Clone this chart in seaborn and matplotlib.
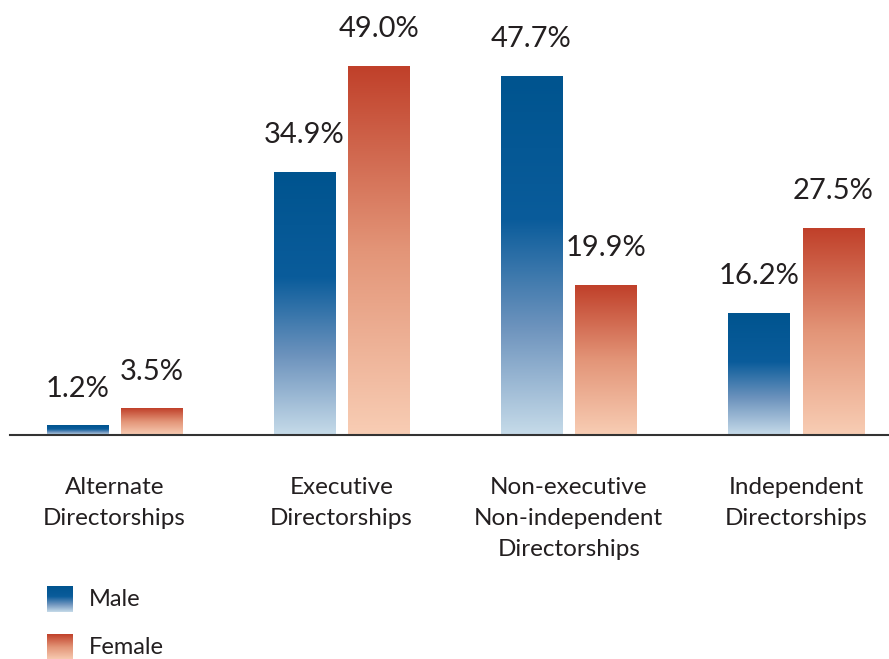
import numpy as np
import pandas as pd
import matplotlib
matplotlib.use('Agg')
import matplotlib.pyplot as plt
import seaborn as sns
from matplotlib.colors import LinearSegmentedColormap

# Data
categories = ['Alternate\nDirectorships', 'Executive\nDirectorships',
              'Non-executive\nNon-independent\nDirectorships', 'Independent\nDirectorships']
male_pct = [1.2, 34.9, 47.7, 16.2]
female_pct = [3.5, 49.0, 19.9, 27.5]
genders = ['Male', 'Female']

df = pd.DataFrame({
    'Category': categories * 2,
    'Gender': ['Male'] * 4 + ['Female'] * 4,
    'Share': male_pct + female_pct,
})

sns.set_theme(style='white')
plt.rcParams['font.family'] = ['Lato', 'DejaVu Sans']
text_col = '#231f20'

# vertical gradients: dark at top, light at bottom
blue_cmap = LinearSegmentedColormap.from_list(
    'blue_grad', [(0, '#c6dbe9'), (0.3, '#6d93bd'), (0.6, '#0a5c9b'), (1, '#00548f')])
red_cmap = LinearSegmentedColormap.from_list(
    'red_grad', [(0, '#f8cdb4'), (0.5, '#e39578'), (1, '#c0402a')])
cmaps = {'Male': blue_cmap, 'Female': red_cmap}

fig = plt.figure(figsize=(8.89, 6.59), dpi=100)
ax = fig.add_axes([10 / 889, 1 - 435 / 659, 879 / 889, 435 / 659])

sns.barplot(data=df, x='Category', y='Share', hue='Gender', hue_order=genders,
            palette={'Male': '#00548f', 'Female': '#c0402a'},
            width=0.656, gap=0.18, legend=False, ax=ax)

grad = np.linspace(0, 1, 256).reshape(-1, 1)
for container, g in zip(ax.containers, genders):
    for bar in container:
        x0, y0 = bar.get_x(), bar.get_y()
        w, h = bar.get_width(), bar.get_height()
        bar.set_facecolor('none')
        bar.set_edgecolor('none')
        ax.imshow(grad, cmap=cmaps[g], origin='lower', aspect='auto',
                  extent=[x0, x0 + w, y0, y0 + h], zorder=2)
        ax.text(x0 + w / 2, h + 3.2, f'{h:.1f}%', ha='center', va='bottom',
                fontsize=21, color=text_col)

ax.set_xlim(-0.46, 3.41)
ax.set_ylim(0, 57.8)
ax.set_xlabel('')
ax.set_ylabel('')
ax.set_yticks([])
ax.tick_params(axis='x', length=0, pad=30, labelsize=17.5, labelcolor=text_col)
ax.set_xticks(range(len(categories)))
ax.set_xticklabels(categories, linespacing=1.6, va='top')
for side in ['top', 'right', 'left']:
    ax.spines[side].set_visible(False)
ax.spines['bottom'].set_color('#333333')
ax.spines['bottom'].set_linewidth(1.5)

# legend with gradient swatches
for i, g in enumerate(genders):
    top = 586 + i * 48
    sw = fig.add_axes([47 / 889, 1 - (top + 26) / 659, 26 / 889, 26 / 659])
    sw.imshow(grad, cmap=cmaps[g], origin='lower', aspect='auto')
    sw.axis('off')
    fig.text(89 / 889, 1 - (top + 13) / 659, g, ha='left', va='center',
             fontsize=17, color=text_col)

fig.savefig('out.png', dpi=100)
